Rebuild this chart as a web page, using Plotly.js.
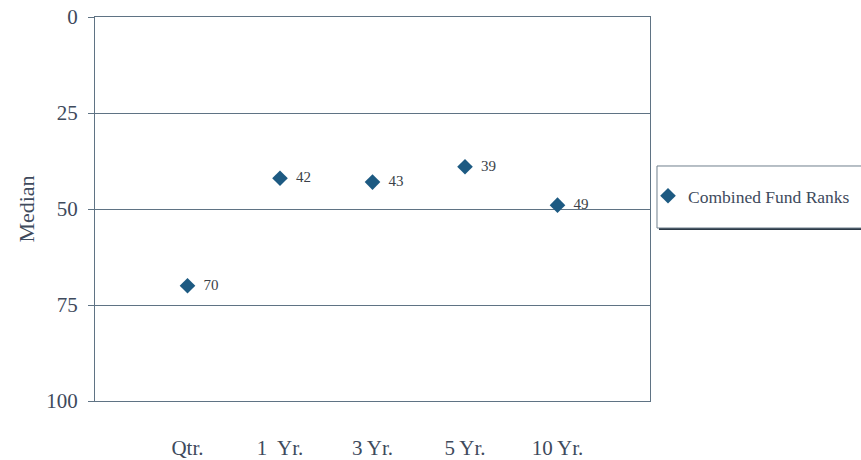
<!DOCTYPE html>
<html><head><meta charset="utf-8">
<script src="https://cdn.plot.ly/plotly-3.0.1.min.js"></script>
<style>html,body{margin:0;padding:0;background:#fff;}#chart{width:861px;height:460px;}</style>
</head><body><div id="chart"></div>
<script>
const categories = ["Qtr.", "1  Yr.", "3 Yr.", "5 Yr.", "10 Yr."];
const medianRanks = [70, 42, 43, 39, 49];
const seriesName = "Combined Fund Ranks";
const yTicks = [0, 25, 50, 75, 100];

const axisColor = "#5f7384";
const markerColor = "#1d5a82";
const font = "Liberation Serif, Times New Roman, serif";

const trace = {
  type: "scatter", mode: "markers+text",
  x: categories.map((c, i) => i), y: medianRanks,
  text: medianRanks.map(v => "\u00a0\u00a0" + v), textposition: "middle right",
  textfont: {family: font, size: 15, color: "#3a3f48"},
  marker: {symbol: "diamond", size: 12, color: markerColor},
  name: seriesName, showlegend: true, cliponaxis: false
};

const layout = {
  width: 861, height: 460,
  margin: {l: 95, r: 211, t: 17, b: 59, autoexpand: false},
  paper_bgcolor: "#ffffff", plot_bgcolor: "#ffffff",
  font: {family: font, color: "#3e4a5c"},
  xaxis: {
    range: [-1, 5], tickvals: categories.map((c, i) => i), ticktext: categories,
    showgrid: false, zeroline: false, showline: true, mirror: true,
    linecolor: axisColor, linewidth: 1, ticks: "", ticklabelstandoff: 28,
    tickfont: {size: 21, family: font, color: "#3e4a5c"}
  },
  yaxis: {
    range: [100, 0], tickvals: yTicks, showgrid: true, gridcolor: axisColor, gridwidth: 1,
    zeroline: false, showline: true, mirror: true, linecolor: axisColor, linewidth: 1,
    ticks: "outside", ticklen: 6, tickcolor: axisColor, ticklabelstandoff: 6,
    tickfont: {size: 21, family: font, color: "#3e4a5c"},
    title: {text: "Median", font: {size: 22, family: font, color: "#3e4a5c"}, standoff: 5}
  },
  shapes: [
    {type: "rect", xref: "paper", yref: "paper", x0: 1.0162, x1: 1.42, y0: 0.4453, y1: 0.607,
     fillcolor: "#2b3845", line: {width: 0}, layer: "above"},
    {type: "rect", xref: "paper", yref: "paper", x0: 1.0126, x1: 1.40, y0: 0.4505, y1: 0.612,
     fillcolor: "#ffffff", line: {color: "#6f7f8c", width: 1}, layer: "above"}
  ],
  legend: {
    x: 0.9964, y: 0.534, xanchor: "left", yanchor: "middle",
    bgcolor: "rgba(0,0,0,0)", borderwidth: 0,
    font: {size: 17.5, family: font, color: "#3e4a5c"},
    itemwidth: 30, tracegroupgap: 0
  }
};

Plotly.newPlot("chart", [trace], layout, {staticPlot: true, displayModeBar: false});
</script></body></html>
